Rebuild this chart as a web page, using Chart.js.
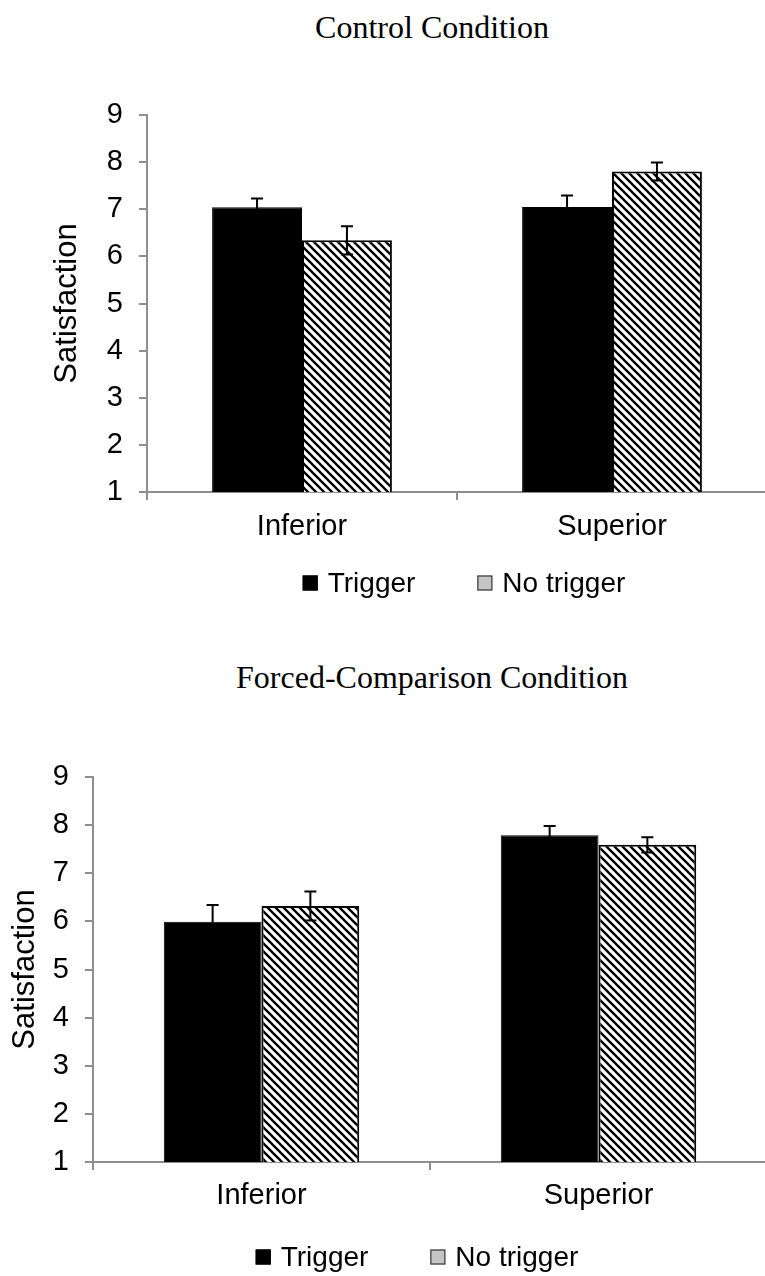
<!DOCTYPE html>
<html>
<head>
<meta charset="utf-8">
<script src="https://cdn.jsdelivr.net/npm/chart.js@4.4.1/dist/chart.umd.min.js"></script>
<style>
    html, body { margin: 0; padding: 0; background: #fff; width: 765px; height: 1276px; overflow: hidden; }
    .panel { position: absolute; left: 0; width: 770px; }
    .panel-title {
        position: absolute; left: 432px; transform: translateX(-50%);
        font-family: "Liberation Serif", "Times New Roman", serif; font-size: 32px;
        line-height: 32px; white-space: nowrap; color: #000;
    }
</style>
</head>
<body>
<div class="panel-title" style="top: 11px;">Control Condition</div>
<div class="panel-title" style="top: 661px;">Forced-Comparison Condition</div>
<div class="panel" style="top: 0; height: 640px;"><canvas id="controlChart"></canvas></div>
<div class="panel" style="top: 640px; height: 660px;"><canvas id="forcedChart"></canvas></div>

<script>
const categories = ['Inferior', 'Superior'];
const seriesNames = ['Trigger', 'No trigger'];
const yTicks = [1, 2, 3, 4, 5, 6, 7, 8, 9];

// Control condition
const controlTrigger = [7.04, 7.05];
const controlTriggerErr = [0.19, 0.24];
const controlNoTrigger = [6.34, 7.80];
const controlNoTriggerErr = [0.30, 0.19];

// Forced-comparison condition
const forcedTrigger = [5.99, 7.79];
const forcedTriggerErr = [0.35, 0.19];
const forcedNoTrigger = [6.32, 7.59];
const forcedNoTriggerErr = [0.30, 0.16];

const AXIS_GREY = '#8e8e8e';
const SANS = '"Liberation Sans", Arial, sans-serif';

function makeHatch() {
    const size = 8;
    const c = document.createElement('canvas');
    c.width = size; c.height = size;
    const g = c.getContext('2d');
    g.fillStyle = '#fff';
    g.fillRect(0, 0, size, size);
    g.strokeStyle = '#000';
    g.lineWidth = 2.3;
    g.beginPath();
    g.moveTo(-size, 0); g.lineTo(size, 2 * size);
    g.moveTo(0, 0); g.lineTo(size, size);
    g.moveTo(0, -size); g.lineTo(2 * size, size);
    g.stroke();
    return g.createPattern(c, 'repeat');
}

// draws symmetric error bars from each dataset's `errors` array
const errorBars = {
    id: 'errorBars',
    afterDatasetsDraw(chart) {
        const { ctx, scales: { y } } = chart;
        ctx.save();
        ctx.strokeStyle = '#000';
        ctx.lineWidth = 2;
        chart.data.datasets.forEach((ds, di) => {
            chart.getDatasetMeta(di).data.forEach((bar, i) => {
                const v = ds.data[i], e = ds.errors[i];
                const top = y.getPixelForValue(v + e);
                const bot = y.getPixelForValue(v - e);
                const cap = 6;
                ctx.beginPath();
                ctx.moveTo(bar.x, top); ctx.lineTo(bar.x, bot);
                ctx.moveTo(bar.x - cap, top); ctx.lineTo(bar.x + cap, top);
                ctx.moveTo(bar.x - cap, bot); ctx.lineTo(bar.x + cap, bot);
                ctx.stroke();
            });
        });
        ctx.restore();
    }
};

// Excel-style legend row under the axis labels
const legendRow = {
    id: 'legendRow',
    afterDraw(chart, args, opts) {
        const { ctx, chartArea } = chart;
        const box = 15, gap = 10, itemGap = 62;
        const swatches = [
            { fill: '#000', stroke: '#000' },
            { fill: '#c4c4c4', stroke: '#3a3a3a' }
        ];
        ctx.save();
        ctx.font = `28px ${SANS}`;
        const widths = seriesNames.map(t => ctx.measureText(t).width);
        const total = widths.reduce((a, w) => a + box + gap + w, 0) + itemGap * (seriesNames.length - 1);
        let x = opts.centerX - total / 2;
        const y = chartArea.bottom + opts.offset;
        ctx.textBaseline = 'middle';
        seriesNames.forEach((name, i) => {
            ctx.fillStyle = swatches[i].fill;
            ctx.fillRect(x, y - box / 2 - 1, box, box);
            ctx.strokeStyle = swatches[i].stroke;
            ctx.lineWidth = 1.2;
            ctx.strokeRect(x + 0.5, y - box / 2 - 0.5, box - 1, box - 1);
            ctx.fillStyle = '#000';
            ctx.fillText(name, x + box + gap, y);
            x += box + gap + widths[i] + itemGap;
        });
        ctx.restore();
    }
};

function buildChart(id, trig, trigErr, noTrig, noTrigErr, cfg) {
    const hatch = makeHatch();
    return new Chart(document.getElementById(id), {
        type: 'bar',
        data: {
            labels: categories,
            datasets: [
                { label: seriesNames[0], data: trig, errors: trigErr, backgroundColor: '#000', borderColor: '#000', borderWidth: 1 },
                { label: seriesNames[1], data: noTrig, errors: noTrigErr, backgroundColor: hatch, borderColor: '#000', borderWidth: 2 }
            ]
        },
        options: {
            responsive: true,
            maintainAspectRatio: false,
            animation: false,
            categoryPercentage: 0.58,
            barPercentage: 1.0,
            layout: { padding: { top: cfg.top, left: 0, right: 3, bottom: cfg.bottom } },
            plugins: {
                tooltip: { enabled: false },
                legend: { display: false },
                legendRow: { centerX: cfg.legendX, offset: cfg.legendOffset }
            },
            scales: {
                x: {
                    afterFit: (s) => { s.height = 60; },
                    grid: { display: true, drawOnChartArea: false, color: AXIS_GREY, lineWidth: 2, tickLength: 8 },
                    border: { color: AXIS_GREY, width: 2 },
                    ticks: { color: '#000', padding: cfg.xPad, font: { family: SANS, size: 29 } }
                },
                y: {
                    min: yTicks[0],
                    max: yTicks[yTicks.length - 1],
                    afterFit: (s) => { s.width = cfg.yWidth; },
                    afterBuildTicks: (s) => { s.ticks = yTicks.map(v => ({ value: v })); },
                    grid: { display: true, drawOnChartArea: false, color: AXIS_GREY, lineWidth: 2, tickLength: 8 },
                    border: { color: AXIS_GREY, width: 2 },
                    ticks: { color: '#000', padding: 16, font: { family: SANS, size: 29 } },
                    title: {
                        display: true,
                        text: 'Satisfaction',
                        color: '#000',
                        font: { family: SANS, size: 31 },
                        padding: { top: cfg.titlePad, bottom: 0 }
                    }
                }
            }
        },
        plugins: [errorBars, legendRow]
    });
}

buildChart('controlChart', controlTrigger, controlTriggerErr, controlNoTrigger, controlNoTriggerErr,
    { top: 115, bottom: 88, yWidth: 147, titlePad: 49, xPad: 10, legendX: 464, legendOffset: 92 });
buildChart('forcedChart', forcedTrigger, forcedTriggerErr, forcedNoTrigger, forcedNoTriggerErr,
    { top: 137, bottom: 78, yWidth: 93, titlePad: 7, xPad: 9, legendX: 417, legendOffset: 96 });
</script>
</body>
</html>
